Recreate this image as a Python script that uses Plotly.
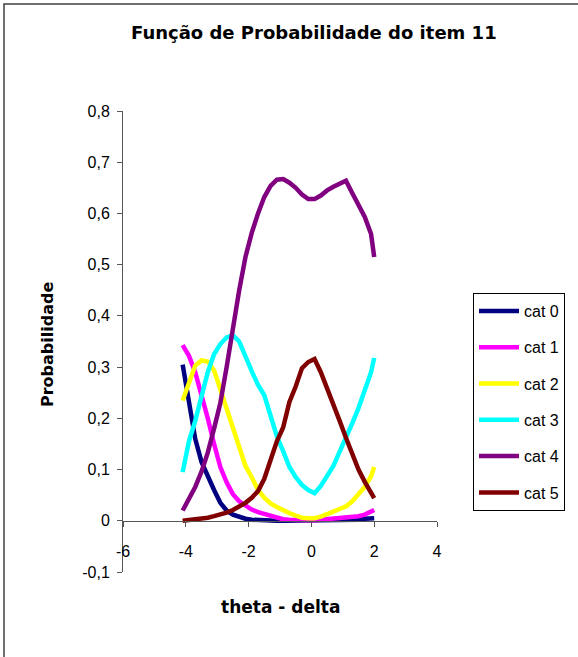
import plotly.graph_objects as go

theta = [-4.1, -3.9, -3.7, -3.5, -3.3, -3.1, -2.9, -2.7, -2.5, -2.3, -2.1,
         -1.9, -1.7, -1.5, -1.3, -1.1, -0.9, -0.7, -0.5, -0.3, -0.1,
         0.1, 0.3, 0.5, 0.7, 0.9, 1.1, 1.3, 1.5, 1.7, 1.9, 2.0]

cat0 = [0.305, 0.23, 0.16, 0.115, 0.085, 0.06, 0.035, 0.02, 0.012, 0.007, 0.004,
        0.002, 0.001, 0.0, 0.0, 0.0, 0.0, 0.0, 0.0, 0.0, 0.0,
        0.0, 0.0, 0.0, 0.0, 0.0, 0.001, 0.001, 0.002, 0.004, 0.005, 0.005]
cat1 = [0.343, 0.322, 0.29, 0.248, 0.2, 0.15, 0.105, 0.075, 0.052, 0.038, 0.029,
        0.022, 0.017, 0.013, 0.009, 0.005, 0.003, 0.002, 0.001, 0.001, 0.001,
        0.001, 0.002, 0.003, 0.004, 0.004, 0.005, 0.007, 0.009, 0.012, 0.017, 0.021]
cat2 = [0.235, 0.272, 0.303, 0.313, 0.311, 0.294, 0.256, 0.214, 0.177, 0.139, 0.107,
        0.085, 0.06, 0.045, 0.034, 0.027, 0.02, 0.015, 0.01, 0.006, 0.005,
        0.005, 0.008, 0.014, 0.018, 0.023, 0.028, 0.038, 0.052, 0.066, 0.087, 0.105]
cat3 = [0.095, 0.155, 0.195, 0.245, 0.29, 0.325, 0.345, 0.358, 0.362, 0.35, 0.318,
        0.292, 0.265, 0.245, 0.205, 0.165, 0.136, 0.105, 0.085, 0.07, 0.06,
        0.054, 0.068, 0.087, 0.107, 0.135, 0.16, 0.19, 0.22, 0.252, 0.29, 0.318]
cat4 = [0.02, 0.042, 0.066, 0.096, 0.133, 0.18, 0.23, 0.30, 0.38, 0.45, 0.515,
        0.562, 0.6, 0.632, 0.654, 0.666, 0.667, 0.66, 0.65, 0.637, 0.628,
        0.628, 0.635, 0.645, 0.652, 0.658, 0.664, 0.64, 0.615, 0.593, 0.56, 0.515]
cat5 = [0.0, 0.001, 0.002, 0.004, 0.006, 0.009, 0.012, 0.016, 0.021, 0.027, 0.035,
        0.045, 0.058, 0.082, 0.12, 0.155, 0.182, 0.232, 0.262, 0.298, 0.31,
        0.316, 0.29, 0.26, 0.228, 0.195, 0.162, 0.128, 0.1, 0.076, 0.055, 0.044]

series_names = ["cat 0", "cat 1", "cat 2", "cat 3", "cat 4", "cat 5"]
series_values = [cat0, cat1, cat2, cat3, cat4, cat5]
colors = ["#000080", "#FF00FF", "#FFFF00", "#00FFFF", "#800080", "#800000"]

x_tickvals = [-6, -4, -2, 0, 2, 4]
x_ticktext = ["-6", "-4", "-2", "0", "2", "4"]
y_tickvals = [-0.1, 0, 0.1, 0.2, 0.3, 0.4, 0.5, 0.6, 0.7, 0.8]
y_ticktext = ["-0,1", "0", "0,1", "0,2", "0,3", "0,4", "0,5", "0,6", "0,7", "0,8"]

FONT = "Liberation Sans, Arial, sans-serif"
BOLD_FONT = "DejaVu Sans, Liberation Sans, sans-serif"
W, H = 578, 657
L, R, T, B = 123, 141, 111, 85
pw, ph = W - L - R, H - T - B

fig = go.Figure()
for i, (name, vals, col) in enumerate(zip(series_names, series_values, colors)):
    fig.add_trace(go.Scatter(x=theta, y=vals, mode="lines", name=name,
                             legendgroup=name,
                             line=dict(color=col, width=4.5)))

def px_x(p):
    return (p - L) / pw

def px_y(p):
    return (H - B - p) / ph

fig.update_layout(
    width=W, height=H,
    margin=dict(l=L, r=R, t=T, b=B),
    paper_bgcolor="white", plot_bgcolor="white",
    font=dict(family=FONT, size=16, color="black"),
    showlegend=True,
    legend=dict(x=px_x(473), y=px_y(293), xanchor="left", yanchor="top",
                bordercolor="black", borderwidth=1, bgcolor="white",
                font=dict(size=16, family=FONT, color="black"),
                itemwidth=40,
                traceorder="grouped", tracegroupgap=12.5),
    xaxis=dict(range=[-6, 4], tickvals=x_tickvals, ticktext=x_ticktext,
               showgrid=False, zeroline=False, showline=True,
               linecolor="#555555", linewidth=1,
               ticks="outside", ticklen=5, tickcolor="#555555",
               anchor="free", position=(0 - (-0.1)) / 0.9,
               ticklabelstandoff=11,
               tickfont=dict(size=16, family=FONT, color="black")),
    yaxis=dict(range=[-0.1, 0.8], tickvals=y_tickvals, ticktext=y_ticktext,
               showgrid=False, zeroline=False, showline=True,
               linecolor="#555555", linewidth=1,
               ticks="outside", ticklen=5, tickcolor="#555555",
               ticklabelstandoff=4,
               tickfont=dict(size=16, family=FONT, color="black")),
    shapes=[dict(type="rect", xref="paper", yref="paper",
                 x0=px_x(4), x1=px_x(600), y0=px_y(680), y1=px_y(4),
                 line=dict(color="#404040", width=1.5), fillcolor="rgba(0,0,0,0)",
                 layer="below")],
    annotations=[
        dict(text="<b>Função de Probabilidade do item 11</b>", xref="paper", yref="paper",
             x=px_x(314), y=px_y(33), xanchor="center", yanchor="middle", showarrow=False,
             font=dict(size=18, family=BOLD_FONT, color="black")),
        dict(text="<b>theta - delta</b>", xref="paper", yref="paper",
             x=px_x(280), y=px_y(607), xanchor="center", yanchor="middle", showarrow=False,
             font=dict(size=17, family=BOLD_FONT, color="black")),
        dict(text="<b>Probabilidade</b>", xref="paper", yref="paper",
             x=px_x(47), y=px_y(345), xanchor="center", yanchor="middle", showarrow=False,
             textangle=-90,
             font=dict(size=16, family=BOLD_FONT, color="black")),
    ],
)

fig.write_html("out.html", config={"displayModeBar": False},
               post_script="document.body.style.margin='0';")
